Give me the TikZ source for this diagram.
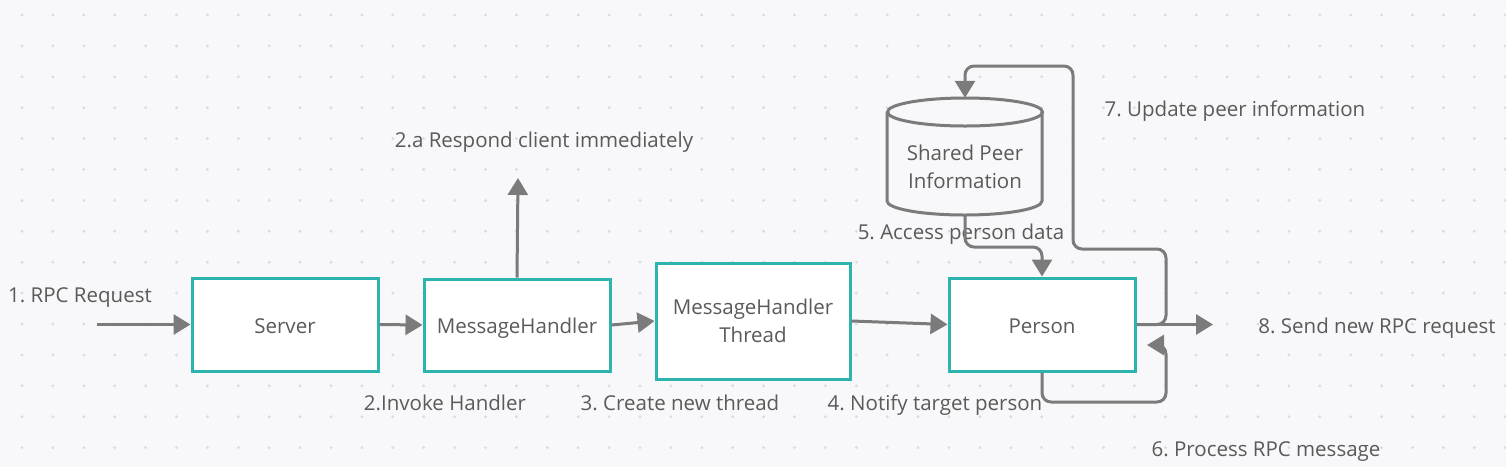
\documentclass[tikz,border=0pt]{standalone}
\usepackage{fontspec}
\setmainfont{Open Sans}
\usetikzlibrary{arrows.meta}
\definecolor{bgc}{HTML}{F8F8FA}
\definecolor{dotc}{HTML}{DCDCE0}
\definecolor{tealb}{HTML}{2DB4AE}
\definecolor{conc}{HTML}{7B7B7B}
\definecolor{txc}{HTML}{5A5A5A}
\newcommand{\fsz}{\fontsize{20.5}{28.5}\selectfont}
\frenchspacing
\begin{document}
\frenchspacing
\begin{tikzpicture}[x=1pt,y=-1pt,
  box/.style={draw=tealb, line width=3pt, fill=white, inner sep=0pt, text=txc, font=\fsz, align=center},
  onebox/.style={box, text height=17pt, text depth=0pt},
  lbl/.style={text=txc, font=\fsz, inner sep=0pt, anchor=base},
  conn/.style={draw=conc, line width=3pt, -{Triangle[length=17pt,width=20pt]}, rounded corners=9pt},
  cylline/.style={draw=conc, line width=3pt}]
\useasboundingbox (0,0) rectangle (1506,467);
\fill[bgc] (0,0) rectangle (1506,467);
\foreach \i in {0,...,48}{
  \foreach \j in {0,...,14}{
    \fill[dotc] (22+30.9*\i, 15+30.9*\j) circle (1.6pt);
  }
}
% cylinder
\fill[bgc] (887,112) -- (887,201) arc[start angle=180, end angle=360, x radius=77.5pt, y radius=14pt] -- (1042,112) arc[start angle=0, end angle=180, x radius=77.5pt, y radius=14pt] -- cycle;
\draw[cylline] (887,112) -- (887,201) arc[start angle=180, end angle=360, x radius=77.5pt, y radius=14pt] -- (1042,112);
\draw[cylline] (965,112) ellipse [x radius=77.5pt, y radius=14pt];
\node[inner sep=0pt, minimum width=155pt, minimum height=117pt] (cyl) at (965,156.5) {};
\node[lbl, align=center, anchor=center] (cyltext) at (965,167) {Shared Peer\\Information};

% boxes
\node[onebox, minimum width=186pt, minimum height=93pt] (server) at (285,324.5) {Server};
\node[onebox, minimum width=186pt, minimum height=92pt] (mh) at (517,325) {MessageHandler};
\node[box, minimum width=194pt, minimum height=116pt] (thr) at (753,321) {MessageHandler\\Thread};
\node[onebox, minimum width=186pt, minimum height=93pt] (per) at (1042,324.5) {Person};

% labels
\node[lbl] (l1) at (80,302) {1. RPC Request};
\node[lbl] (l2a) at (544,147) {2.a Respond client immediately};
\node[lbl] (l2) at (445,410) {2.Invoke Handler};
\node[lbl] (l3) at (680,410) {3. Create new thread};
\node[lbl] (l4) at (935,410) {4. Notify target person};
\node[lbl] (l5) at (961,239) {5. Access person data};
\node[lbl] (l6) at (1266,456) {6. Process RPC message};
\node[lbl] (l7) at (1235,116) {7. Update peer information};
\node[lbl] (l8) at (1377,333) {8. Send new RPC request};

% free ends
\coordinate (in1) at (97,324.5);
\coordinate (resp) at (518,178);
\coordinate (out8) at (1213,324.5);

% connectors
\draw[conn] (in1) -- (server.west);
\draw[conn] (server.east) -- (mh.west);
\draw[conn] (mh.east) -- (thr.west);
\draw[conn] (thr.east) -- (per.west);
\draw[conn] (mh.north) -- (resp);
\draw[conn] (per.east) -- (out8);
\draw[conn] (cyl.south) -- (965,247) -| (per.north);
\draw[conn] (per.east) -| (1166,249) -| (1073,66) -| (cyl.north);
\draw[conn] (per.south) |- (1166,402) |- (1147,345);
\end{tikzpicture}
\end{document}
